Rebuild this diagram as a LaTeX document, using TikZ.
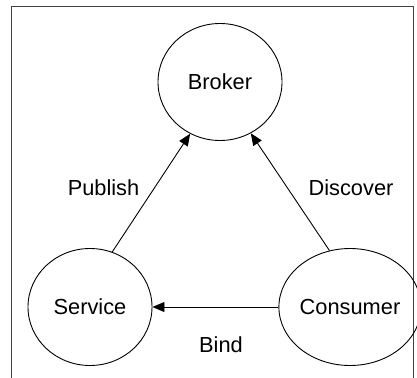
\documentclass[tikz,border=0pt]{standalone}
\usepackage{fontspec}
\setmainfont{Liberation Sans}
\usetikzlibrary{shapes.geometric,arrows.meta}
\begin{document}
\begin{tikzpicture}[x=1pt,y=-1pt,
  every node/.style={font=\fontsize{21.8}{24}\selectfont},
  role/.style={draw,ellipse,line width=0.9pt,minimum width=124pt,minimum height=117pt,inner sep=0pt},
  lbl/.style={inner sep=0pt},
  flow/.style={draw,line width=0.9pt,-{Triangle[length=12pt,width=10pt]}}]
\useasboundingbox (0,0) rectangle (417,377);
\draw[line width=1pt,color=black!75] (11,390) -- (11,7) -- (413,7) -- (413,390);
\node[role] (broker) at (220,82) {Broker};
\node[role] (service) at (90,307) {Service};
\node[role] (consumer) at (350,307) {Consumer};
\draw[flow] (service.68) -- (broker.240);
\draw[flow] (consumer.110) -- (broker.301);
\draw[flow] (consumer.180) -- (service.0);
\node[lbl] (publish) at (103.5,188) {Publish};
\node[lbl] (discover) at (351,188) {Discover};
\node[lbl] (bind) at (221,345) {Bind};
\end{tikzpicture}
\end{document}
